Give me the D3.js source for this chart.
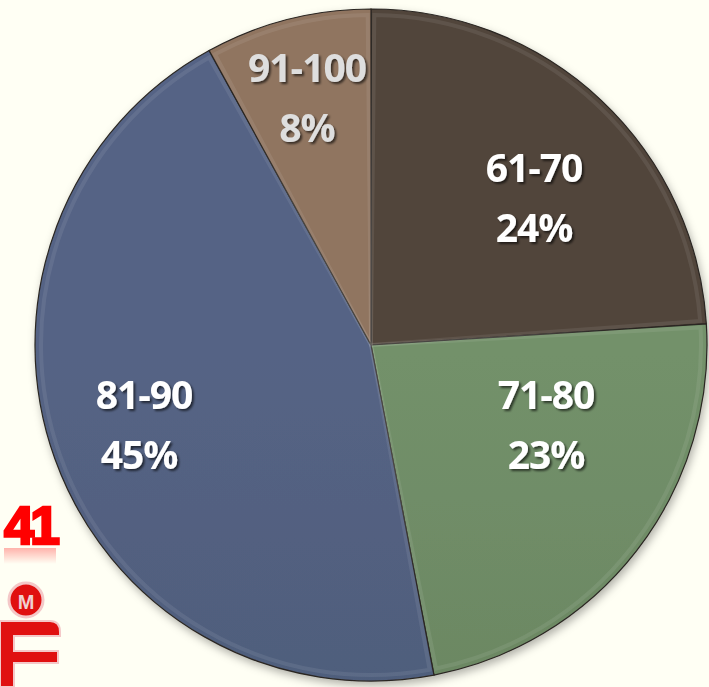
<!DOCTYPE html>
<html><head><meta charset="utf-8">
<script src="https://cdn.jsdelivr.net/npm/d3@7"></script>
<style>body{margin:0;background:#fffff4;}svg{display:block}</style>
</head><body>
<script>
const categories = ["61-70", "71-80", "81-90", "91-100"];
const values = [24, 23, 45, 8];
const percentLabels = ["24%", "23%", "45%", "8%"];
const colors = ["#4b3f37", "#6b8763", "#4f5d7c", "#866c5a"];
const labelColors = ["#ffffff", "#ffffff", "#ffffff", "#dedede"];

const W = 709, H = 687;
const cx = 371, cy = 345, R = 336;
const svg = d3.select("body").append("svg").attr("width", W).attr("height", H);
svg.append("rect").attr("width", W).attr("height", H).attr("fill", "#fffff4");

const defs = svg.append("defs");
const sh = defs.append("filter").attr("id", "shadow").attr("x", "-20%").attr("y", "-20%").attr("width", "140%").attr("height", "140%");
sh.append("feDropShadow").attr("dx", 2).attr("dy", 4).attr("stdDeviation", 4).attr("flood-color", "#000").attr("flood-opacity", 0.3);
const ts = defs.append("filter").attr("id", "tshadow");
ts.append("feDropShadow").attr("dx", 2).attr("dy", 2).attr("stdDeviation", 1.2).attr("flood-color", "#000").attr("flood-opacity", 0.6);

colors.forEach((c, i) => {
  const g = defs.append("linearGradient").attr("id", "g" + i)
    .attr("gradientUnits", "userSpaceOnUse").attr("x1", cx).attr("y1", cy - R).attr("x2", cx).attr("y2", cy + R);
  g.append("stop").attr("offset", "0%").attr("stop-color", d3.color(c).brighter(0.2));
  g.append("stop").attr("offset", "100%").attr("stop-color", d3.color(c).darker(0.2));
});
const rf = defs.append("linearGradient").attr("id", "refl").attr("x1", 0).attr("y1", 0).attr("x2", 0).attr("y2", 1);
rf.append("stop").attr("offset", "0%").attr("stop-color", "#ff0000").attr("stop-opacity", 0.3);
rf.append("stop").attr("offset", "100%").attr("stop-color", "#ff0000").attr("stop-opacity", 0);

const pie = d3.pie().sort(null).value(d => d);
const arcs = pie(values);
const arc = d3.arc().innerRadius(0).outerRadius(R);
const g = svg.append("g").attr("transform", `translate(${cx},${cy})`);

g.append("g").attr("filter", "url(#shadow)").selectAll("path").data(arcs).join("path")
  .attr("d", arc).attr("fill", (d, i) => `url(#g${i})`)
  .attr("stroke", "#2a2622").attr("stroke-width", 1.2);

// inner bevel highlight
const bevel = d3.arc().innerRadius(0).outerRadius(R - 6);
g.append("g").selectAll("path").data(arcs).join("path")
  .attr("d", d => bevel({startAngle: d.startAngle + 0.01, endAngle: d.endAngle - 0.01}))
  .attr("fill", "none").attr("stroke", "rgba(255,255,255,0.08)").attr("stroke-width", 4);

const labelPos = [[163, -163], [175, 64], [-227, 64], [-64, -263]];
const lab = g.append("g").attr("font-family", "'Open Sans', Lato, sans-serif")
  .attr("font-weight", "700").attr("font-size", 39).attr("text-anchor", "middle")
  .attr("filter", "url(#tshadow)");
arcs.forEach((d, i) => {
  const [x, y] = labelPos[i];
  lab.append("text").attr("x", x).attr("y", y).attr("fill", labelColors[i]).attr("letter-spacing", -1).text(categories[i]);
  lab.append("text").attr("x", x - (i === 2 ? 5 : 0)).attr("y", y + 60).attr("fill", labelColors[i]).attr("letter-spacing", -1).text(percentLabels[i]);
});

// corner badge
svg.append("text").attr("x", 4).attr("y", 544).attr("font-family", "'Liberation Sans', Arial, sans-serif").attr("font-weight", 700)
  .attr("font-size", 54).attr("fill", "#ff0000").attr("stroke", "#ff0000").attr("stroke-width", 2.5).attr("letter-spacing", -4).text("41");
svg.append("rect").attr("x", 4).attr("y", 548).attr("width", 52).attr("height", 16).attr("fill", "url(#refl)");
const logo = svg.append("g");
logo.append("circle").attr("cx", 26).attr("cy", 600).attr("r", 17).attr("fill", "#e01010").attr("stroke", "#f4c8c8").attr("stroke-width", 3);
logo.append("text").attr("x", 26).attr("y", 609).attr("text-anchor", "middle").attr("font-family", "Arial").attr("font-weight", 700).attr("font-size", 20).attr("fill", "#f0d0d0").text("M");
logo.append("path").attr("d", "M0,621 H50 Q60,621 60,632 V636 H14 V651 H58 V663 H14 V687 H0 Z")
  .attr("fill", "#e01010").attr("stroke", "#f4c8c8").attr("stroke-width", 2);
</script>
</body></html>
